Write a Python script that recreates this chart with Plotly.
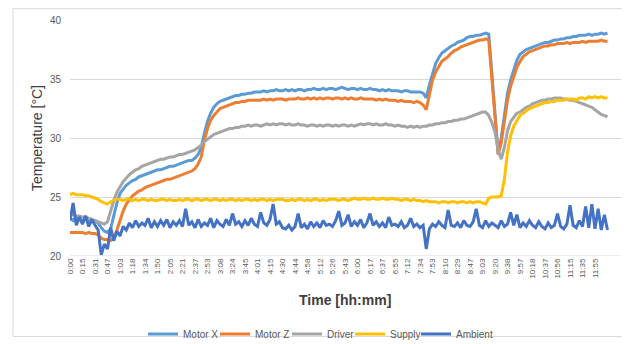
import plotly.graph_objects as go

# Tick labels (category axis, one label every N samples)
tick_labels = ["0:00", "0:15", "0:31", "0:47", "1:03", "1:18", "1:34", "1:50", "2:05", "2:21",
               "2:37", "2:53", "3:08", "3:24", "3:45", "4:01", "4:15", "4:30", "4:44", "4:58",
               "5:12", "5:26", "5:43", "6:00", "6:17", "6:37", "6:55", "7:12", "7:34", "7:53",
               "8:10", "8:29", "8:47", "9:03", "9:20", "9:38", "9:57", "10:18", "10:37", "10:56",
               "11:15", "11:35", "11:55"]

# Series values, 4 samples per label interval
motor_x = [
    23.2, 23.0, 23.3, 23.1,  23.0, 23.2, 23.1, 22.9,  23.0, 22.8, 22.4, 22.1,  22.0, 22.3, 23.4, 24.5,
    25.3, 25.7, 26.0, 26.2,  26.4, 26.5, 26.7, 26.8,  26.9, 27.0, 27.1, 27.2,  27.3, 27.3, 27.4, 27.5,
    27.6, 27.6, 27.7, 27.8,  27.9, 28.0, 28.1, 28.1,  28.3, 28.6, 29.2, 30.4,  31.4, 32.1, 32.6, 32.9,
    33.1, 33.2, 33.3, 33.4,  33.5, 33.6, 33.6, 33.7,  33.7, 33.8, 33.8, 33.9,  33.9, 33.9, 34.0, 33.9,
    34.0, 34.0, 34.1, 34.0,  34.0, 34.1, 34.0, 34.1,  34.0, 34.1, 34.1, 34.0,  34.1, 34.1, 34.2, 34.1,
    34.1, 34.2, 34.1, 34.2,  34.2, 34.1, 34.2, 34.3,  34.2, 34.1, 34.2, 34.2,  34.1, 34.2, 34.1, 34.1,
    34.2, 34.1, 34.1, 34.0,  34.1, 34.0, 34.1, 34.0,  34.0, 34.0, 33.9, 34.0,  34.0, 33.9, 33.9, 33.9,
    33.9, 33.8, 33.4, 34.5,  35.5, 36.3, 36.8, 37.2,  37.4, 37.6, 37.8, 37.9,  38.1, 38.2, 38.3, 38.5,
    38.6, 38.6, 38.7, 38.7,  38.8, 38.9, 38.8, 35.2,  32.3, 28.7, 30.0, 32.0,  33.8, 34.9, 35.8, 36.6,
    37.1, 37.3, 37.5, 37.6,  37.7, 37.8, 37.9, 38.0,  38.1, 38.1, 38.2, 38.3,  38.3, 38.4, 38.4, 38.5,
    38.5, 38.6, 38.6, 38.7,  38.7, 38.7, 38.8, 38.7,  38.8, 38.8, 38.9, 38.8,  38.9,
]
motor_z = [
    22.0, 22.0, 22.0, 22.0,  22.0, 21.9, 22.0, 21.9,  21.9, 21.8, 21.5, 21.4,  21.4, 21.3, 21.5, 22.2,
    23.1, 23.8, 24.4, 24.8,  25.1, 25.3, 25.5, 25.6,  25.8, 25.9, 26.0, 26.1,  26.2, 26.3, 26.4, 26.5,
    26.5, 26.6, 26.7, 26.8,  26.9, 27.0, 27.1, 27.2,  27.4, 27.8, 28.4, 29.8,  30.8, 31.5, 31.9, 32.2,
    32.5, 32.6, 32.7, 32.8,  32.9, 33.0, 33.0, 33.1,  33.1, 33.2, 33.2, 33.2,  33.2, 33.2, 33.3, 33.2,
    33.3, 33.2, 33.3, 33.3,  33.3, 33.2, 33.3, 33.3,  33.3, 33.4, 33.3, 33.3,  33.4, 33.3, 33.4, 33.3,
    33.4, 33.3, 33.4, 33.4,  33.3, 33.4, 33.4, 33.3,  33.4, 33.3, 33.4, 33.3,  33.3, 33.4, 33.3, 33.3,
    33.3, 33.3, 33.2, 33.3,  33.2, 33.3, 33.2, 33.2,  33.2, 33.1, 33.2, 33.1,  33.1, 33.1, 33.0, 33.1,
    33.0, 32.8, 32.4, 33.6,  34.9, 35.6, 36.1, 36.5,  36.7, 36.9, 37.2, 37.4,  37.5, 37.7, 37.8, 37.9,
    38.0, 38.1, 38.2, 38.3,  38.3, 38.4, 38.3, 34.9,  31.9, 28.6, 29.6, 31.4,  33.2, 34.4, 35.3, 36.0,
    36.5, 36.9, 37.1, 37.3,  37.4, 37.5, 37.6, 37.7,  37.8, 37.8, 37.9, 37.9,  38.0, 38.0, 38.0, 38.1,
    38.0, 38.1, 38.1, 38.1,  38.2, 38.1, 38.2, 38.2,  38.2, 38.2, 38.3, 38.2,  38.2,
]
driver = [
    23.5, 23.5, 23.4, 23.4,  23.3, 23.3, 23.2, 23.1,  23.0, 22.9, 22.8, 22.7,  22.9, 23.9, 24.7, 25.4,
    25.9, 26.3, 26.6, 26.9,  27.1, 27.3, 27.4, 27.6,  27.7, 27.8, 27.9, 28.0,  28.1, 28.2, 28.2, 28.3,
    28.4, 28.4, 28.5, 28.6,  28.6, 28.7, 28.8, 28.9,  29.0, 29.2, 29.4, 29.7,  29.9, 30.1, 30.3, 30.4,
    30.5, 30.6, 30.7, 30.8,  30.8, 30.9, 30.9, 31.0,  31.0, 31.1, 31.0, 31.1,  31.1, 31.0, 31.1, 31.2,
    31.1, 31.2, 31.1, 31.2,  31.2, 31.1, 31.2, 31.1,  31.1, 31.2, 31.1, 31.1,  31.0, 31.1, 31.1, 31.0,
    31.1, 31.0, 31.1, 31.1,  31.0, 31.1, 31.0, 31.1,  31.1, 31.0, 31.1, 31.0,  31.1, 31.2, 31.1, 31.2,
    31.2, 31.1, 31.2, 31.1,  31.1, 31.2, 31.1, 31.1,  31.0, 31.1, 31.0, 31.0,  30.9, 31.0, 30.9, 31.0,
    30.9, 31.0, 31.0, 31.1,  31.1, 31.2, 31.2, 31.3,  31.3, 31.4, 31.4, 31.5,  31.5, 31.6, 31.6, 31.7,
    31.8, 31.9, 32.0, 32.1,  32.2, 32.2, 31.9, 31.3,  30.5, 29.0, 28.2, 29.2,  30.6, 31.4, 31.8, 32.1,
    32.2, 32.4, 32.6, 32.7,  32.9, 33.0, 33.1, 33.2,  33.2, 33.3, 33.3, 33.4,  33.4, 33.4, 33.3, 33.3,
    33.2, 33.2, 33.1, 33.0,  32.9, 32.8, 32.7, 32.6,  32.4, 32.2, 32.0, 31.9,  31.8,
]
supply = [
    25.2, 25.3, 25.2, 25.2,  25.2, 25.1, 25.1, 25.0,  24.9, 24.8, 24.6, 24.5,  24.4, 24.6, 24.7, 24.8,
    24.8, 24.7, 24.8, 24.8,  24.7, 24.8, 24.7, 24.8,  24.8, 24.7, 24.8, 24.7,  24.7, 24.8, 24.8, 24.7,
    24.8, 24.7, 24.7, 24.8,  24.7, 24.8, 24.8, 24.7,  24.8, 24.8, 24.7, 24.8,  24.8, 24.7, 24.8, 24.8,
    24.7, 24.8, 24.7, 24.8,  24.8, 24.7, 24.8, 24.7,  24.8, 24.8, 24.7, 24.8,  24.7, 24.8, 24.8, 24.7,
    24.8, 24.7, 24.8, 24.8,  24.8, 24.7, 24.7, 24.8,  24.7, 24.8, 24.8, 24.7,  24.8, 24.7, 24.8, 24.8,
    24.7, 24.8, 24.7, 24.8,  24.8, 24.8, 24.7, 24.8,  24.8, 24.7, 24.8, 24.9,  24.8, 24.8, 24.9, 24.8,
    24.8, 24.9, 24.8, 24.8,  24.9, 24.8, 24.8, 24.9,  24.8, 24.8, 24.7, 24.8,  24.8, 24.7, 24.8, 24.7,
    24.7, 24.6, 24.7, 24.6,  24.6, 24.6, 24.5, 24.6,  24.6, 24.5, 24.6, 24.6,  24.5, 24.6, 24.6, 24.5,
    24.6, 24.5, 24.6, 24.6,  24.5, 24.4, 24.9, 25.0,  25.0, 25.0, 25.1, 26.5,  28.8, 30.2, 31.0, 31.5,
    31.9, 32.1, 32.3, 32.5,  32.6, 32.7, 32.8, 32.9,  33.0, 33.0, 33.1, 33.1,  33.2, 33.2, 33.2, 33.3,
    33.3, 33.3, 33.2, 33.4,  33.4, 33.3, 33.5, 33.4,  33.5, 33.4, 33.5, 33.4,  33.4,
]
ambient = [
    23.0, 24.5, 22.6, 23.3,  22.7, 23.4, 22.5, 23.1,  22.6, 22.2, 20.1, 21.0,  20.6, 22.4, 21.3, 22.1,
    21.7, 22.5, 22.2, 22.8,  22.4, 23.0, 22.5, 22.8,  22.6, 23.2, 22.4, 22.9,  22.5, 23.0, 22.6, 23.1,
    22.4, 22.9, 22.6, 23.0,  22.5, 24.0, 22.6, 22.9,  22.4, 23.1, 22.5, 22.8,  22.6, 23.2, 22.4, 23.0,
    22.7, 22.5, 23.1, 22.6,  23.6, 22.7, 22.9, 22.5,  23.0, 22.6, 23.2, 22.7,  22.5, 23.7, 22.8, 22.6,
    23.1, 24.4, 22.7, 22.9,  22.4, 22.3, 22.6, 22.2,  22.5, 23.6, 22.4, 22.7,  22.3, 22.9, 22.5, 22.8,
    22.4, 23.0, 22.6, 22.7,  22.5, 23.0, 23.8, 22.6,  22.8, 23.5, 22.5, 22.9,  22.6, 23.1, 22.4, 22.8,
    23.6, 22.6, 22.9, 22.5,  22.8, 22.4, 23.3, 22.6,  22.7, 22.5, 22.9, 22.4,  22.6, 23.2, 22.5, 22.7,
    22.4, 22.6, 20.6, 22.3,  22.7, 22.5, 22.9, 22.6,  22.4, 23.9, 22.6, 22.5,  22.8, 22.4, 23.0, 22.6,
    22.5, 22.9, 24.0, 22.6,  22.4, 23.0, 22.5, 22.8,  22.6, 22.4, 23.0, 22.5,  22.7, 23.7, 22.6, 23.5,
    22.4, 22.8, 22.5, 23.0,  22.6, 22.4, 22.9, 22.5,  22.3, 22.8, 22.4, 22.6,  23.6, 22.5, 22.3, 22.7,
    24.3, 22.6, 22.4, 23.0,  22.5, 24.2, 22.4, 24.4,  22.3, 24.0, 22.2, 23.5,  22.2,
]

series_names = ["Motor X", "Motor Z", "Driver", "Supply", "Ambient"]
series_colors = ["#5B9BD5", "#ED7D31", "#A5A5A5", "#FFC000", "#4472C4"]
series_values = [motor_x, motor_z, driver, supply, ambient]

samples_per_label = 4
sample_pos = [k / samples_per_label for k in range(len(motor_x))]

FONT = "Liberation Sans, Arial, sans-serif"
TXT = "#595959"

# one legend per series so each key sits where the reference puts it
legend_ids = ["legend", "legend2", "legend3", "legend4", "legend5"]
legend_x = [0.1325, 0.2632, 0.3938, 0.5082, 0.6279]

fig = go.Figure()
for name, color, vals, lid in zip(series_names, series_colors, series_values, legend_ids):
    fig.add_trace(go.Scatter(x=sample_pos, y=vals, mode="lines", name=name, legend=lid,
                             line=dict(color=color, width=3)))

legend_layout = {}
for lid, lx in zip(legend_ids, legend_x):
    legend_layout[lid] = dict(orientation="h", x=lx, xanchor="left", y=-0.3305, yanchor="middle",
                              font=dict(size=10, color=TXT), bgcolor="rgba(0,0,0,0)",
                              itemwidth=30)

# the page body adds an 8px margin, so the figure is 8px smaller each way
fig.update_layout(
    width=622, height=336,
    margin=dict(l=62, r=9, t=12, b=88, autoexpand=False),
    paper_bgcolor="white", plot_bgcolor="white",
    font=dict(family=FONT, color=TXT, size=10),
    showlegend=True,
    xaxis=dict(range=[0, 44.08], tickmode="array",
               tickvals=list(range(len(tick_labels))), ticktext=tick_labels,
               tickangle=-90, tickfont=dict(size=8, color=TXT),
               showgrid=False, zeroline=False, showline=False, ticks=""),
    yaxis=dict(range=[20, 40], dtick=5, tick0=20, tickfont=dict(size=10, color=TXT),
               showgrid=True, gridcolor="#D9D9D9", gridwidth=1, zeroline=False,
               showline=False, ticks="", ticklabelstandoff=8),
    annotations=[
        dict(text="Temperature [°C]", xref="paper", yref="paper", x=-0.0599, y=0.5,
             xanchor="center", yanchor="middle", textangle=-90, showarrow=False,
             font=dict(size=14, color="#404040", family=FONT)),
        dict(text="<b>Time [hh:mm]</b>", xref="paper", yref="paper", x=0.4995, y=-0.186,
             xanchor="center", yanchor="middle", showarrow=False,
             font=dict(size=14, color="#404040", family=FONT)),
    ],
    shapes=[
        dict(type="line", xref="paper", yref="y", x0=0, x1=1, y0=20, y1=20,
             line=dict(color="#D9D9D9", width=1)),
        dict(type="rect", xref="paper", yref="paper", x0=-0.1034, x1=1.0054, y0=-0.341, y1=1.048,
             line=dict(color="#D9D9D9", width=1), layer="below"),
    ],
    **legend_layout,
)

fig.write_html("out.html")
